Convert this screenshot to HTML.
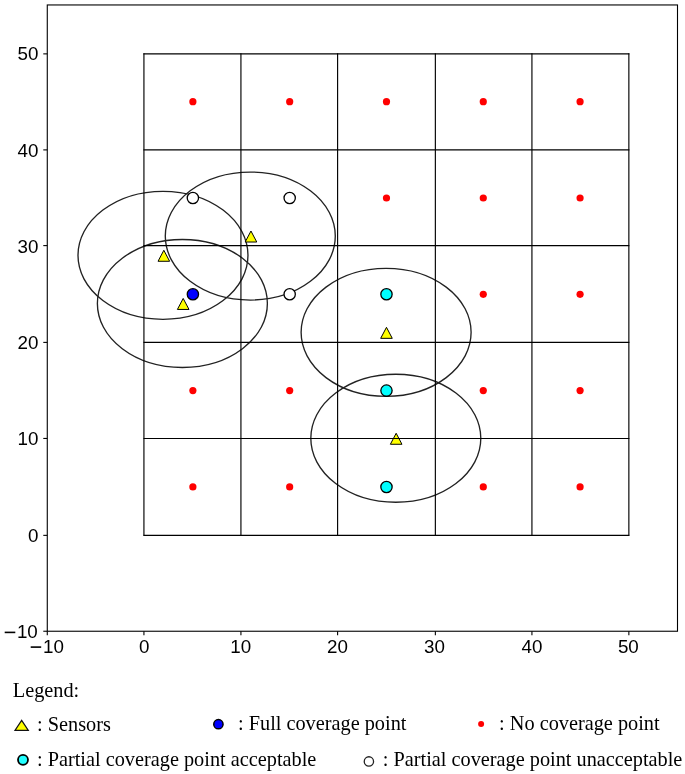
<!DOCTYPE html>
<html><head><meta charset="utf-8"><style>
html,body{margin:0;padding:0;background:#fff;width:685px;height:774px;overflow:hidden}
svg{display:block;-webkit-font-smoothing:antialiased}
.tk,.lg{will-change:transform}
.g{stroke:#000;stroke-width:1.15;fill:none}
.e{stroke:#222;stroke-width:1.35;fill:none}
.m{stroke:#000;stroke-width:1.3}
.t{fill:#ffff00;stroke:#000;stroke-width:1;stroke-linejoin:miter}
.s{stroke:#000;stroke-width:1.1;fill:none}
.tk{font-family:"Liberation Sans",sans-serif;font-size:18.8px;fill:#000}
.lg{font-family:"Liberation Serif",serif;font-size:20.3px;fill:#000}
</style></head><body>
<svg width="685" height="774" viewBox="0 0 685 774">
<ellipse cx="162.98" cy="255.33" rx="85.0" ry="64.0" class="e"/>
<ellipse cx="250.29" cy="236.07" rx="85.0" ry="64.0" class="e"/>
<ellipse cx="182.38" cy="303.47" rx="85.0" ry="64.0" class="e"/>
<ellipse cx="386.11" cy="332.35" rx="85.0" ry="64.0" class="e"/>
<ellipse cx="395.81" cy="438.26" rx="85.0" ry="64.0" class="e"/>
<circle cx="192.88" cy="101.69" r="3.6" fill="#ff0000"/>
<circle cx="289.68" cy="101.69" r="3.6" fill="#ff0000"/>
<circle cx="386.48" cy="101.69" r="3.6" fill="#ff0000"/>
<circle cx="483.28" cy="101.69" r="3.6" fill="#ff0000"/>
<circle cx="580.08" cy="101.69" r="3.6" fill="#ff0000"/>
<circle cx="192.88" cy="198.00" r="5.65" fill="#ffffff" class="m"/>
<circle cx="289.68" cy="198.00" r="5.65" fill="#ffffff" class="m"/>
<circle cx="386.48" cy="198.00" r="3.6" fill="#ff0000"/>
<circle cx="483.28" cy="198.00" r="3.6" fill="#ff0000"/>
<circle cx="580.08" cy="198.00" r="3.6" fill="#ff0000"/>
<circle cx="192.88" cy="294.31" r="5.65" fill="#0000ff" class="m"/>
<circle cx="289.68" cy="294.31" r="5.65" fill="#ffffff" class="m"/>
<circle cx="386.48" cy="294.31" r="5.65" fill="#00ffff" class="m"/>
<circle cx="483.28" cy="294.31" r="3.6" fill="#ff0000"/>
<circle cx="580.08" cy="294.31" r="3.6" fill="#ff0000"/>
<circle cx="192.88" cy="390.62" r="3.6" fill="#ff0000"/>
<circle cx="289.68" cy="390.62" r="3.6" fill="#ff0000"/>
<circle cx="386.48" cy="390.62" r="5.65" fill="#00ffff" class="m"/>
<circle cx="483.28" cy="390.62" r="3.6" fill="#ff0000"/>
<circle cx="580.08" cy="390.62" r="3.6" fill="#ff0000"/>
<circle cx="192.88" cy="486.93" r="3.6" fill="#ff0000"/>
<circle cx="289.68" cy="486.93" r="3.6" fill="#ff0000"/>
<circle cx="386.48" cy="486.93" r="5.65" fill="#00ffff" class="m"/>
<circle cx="483.28" cy="486.93" r="3.6" fill="#ff0000"/>
<circle cx="580.08" cy="486.93" r="3.6" fill="#ff0000"/>
<path d="M163.84 250.28 L169.64 261.28 L158.04 261.28 Z" class="t"/>
<path d="M250.96 231.02 L256.76 242.02 L245.16 242.02 Z" class="t"/>
<path d="M183.20 298.44 L189.00 309.44 L177.40 309.44 Z" class="t"/>
<path d="M386.48 327.33 L392.28 338.33 L380.68 338.33 Z" class="t"/>
<path d="M396.16 433.27 L401.96 444.27 L390.36 444.27 Z" class="t"/>
<line x1="143.93" y1="535.86" x2="143.93" y2="53.37" class="g"/>
<line x1="240.93" y1="535.86" x2="240.93" y2="53.37" class="g"/>
<line x1="337.60" y1="535.86" x2="337.60" y2="53.37" class="g"/>
<line x1="435.36" y1="535.86" x2="435.36" y2="53.37" class="g"/>
<line x1="531.93" y1="535.86" x2="531.93" y2="53.37" class="g"/>
<line x1="628.86" y1="535.86" x2="628.86" y2="53.37" class="g"/>
<line x1="143.43" y1="535.36" x2="629.36" y2="535.36" class="g"/>
<line x1="143.43" y1="438.45" x2="629.36" y2="438.45" class="g"/>
<line x1="143.43" y1="342.40" x2="629.36" y2="342.40" class="g"/>
<line x1="143.43" y1="245.60" x2="629.36" y2="245.60" class="g"/>
<line x1="143.43" y1="149.90" x2="629.36" y2="149.90" class="g"/>
<line x1="143.43" y1="53.87" x2="629.36" y2="53.87" class="g"/>
<rect x="47.28" y="4.96" width="630.22" height="626.28" class="s"/>
<line x1="47.28" y1="631.24" x2="47.28" y2="635.24" class="s"/>
<line x1="43.28" y1="631.24" x2="47.28" y2="631.24" class="s"/>
<text x="53.5" y="653" text-anchor="middle" class="tk">10</text>
<rect x="30.7" y="646.3" width="10.5" height="1.6" fill="#000"/>
<text x="37.8" y="638" text-anchor="end" class="tk">10</text>
<rect x="4.7" y="631.6" width="10.6" height="1.6" fill="#000"/>
<line x1="143.93" y1="631.24" x2="143.93" y2="635.24" class="s"/>
<line x1="43.28" y1="535.36" x2="47.28" y2="535.36" class="s"/>
<text x="144.23" y="653" text-anchor="middle" class="tk">0</text>
<text x="38.5" y="542" text-anchor="end" class="tk">0</text>
<line x1="240.93" y1="631.24" x2="240.93" y2="635.24" class="s"/>
<line x1="43.28" y1="438.45" x2="47.28" y2="438.45" class="s"/>
<text x="240.73" y="653" text-anchor="middle" class="tk">10</text>
<text x="38.5" y="445" text-anchor="end" class="tk">10</text>
<line x1="337.60" y1="631.24" x2="337.60" y2="635.24" class="s"/>
<line x1="43.28" y1="342.40" x2="47.28" y2="342.40" class="s"/>
<text x="337.40" y="653" text-anchor="middle" class="tk">20</text>
<text x="38.5" y="349" text-anchor="end" class="tk">20</text>
<line x1="435.36" y1="631.24" x2="435.36" y2="635.24" class="s"/>
<line x1="43.28" y1="245.60" x2="47.28" y2="245.60" class="s"/>
<text x="434.46" y="653" text-anchor="middle" class="tk">30</text>
<text x="38.5" y="253" text-anchor="end" class="tk">30</text>
<line x1="531.93" y1="631.24" x2="531.93" y2="635.24" class="s"/>
<line x1="43.28" y1="149.90" x2="47.28" y2="149.90" class="s"/>
<text x="531.93" y="653" text-anchor="middle" class="tk">40</text>
<text x="38.5" y="157" text-anchor="end" class="tk">40</text>
<line x1="628.86" y1="631.24" x2="628.86" y2="635.24" class="s"/>
<line x1="43.28" y1="53.87" x2="47.28" y2="53.87" class="s"/>
<text x="628.36" y="653" text-anchor="middle" class="tk">50</text>
<text x="38.5" y="60" text-anchor="end" class="tk">50</text>
<text x="12.8" y="696.8" class="lg">Legend:</text>
<path d="M21.65 720.4 L28.3 730.4 L15.0 730.4 Z" fill="#ffff00" stroke="#111" stroke-width="1.2"/>
<text x="37" y="731.2" class="lg">: Sensors</text>
<circle cx="218.4" cy="724.2" r="4.65" fill="#0000ff" stroke="#000" stroke-width="1.5"/>
<text x="238" y="730.1" class="lg">: Full coverage point</text>
<circle cx="481.1" cy="723.9" r="3.0" fill="#ff0000"/>
<text x="499.1" y="730.1" class="lg">: No coverage point</text>
<circle cx="23" cy="759.8" r="5.0" fill="#22ffff" stroke="#000" stroke-width="1.8"/>
<text x="37" y="765.7" class="lg">: Partial coverage point acceptable</text>
<circle cx="368.9" cy="761.4" r="4.65" fill="#fff" stroke="#222" stroke-width="1.3"/>
<text x="382.8" y="765.7" class="lg">: Partial coverage point unacceptable</text>
</svg>
</body></html>
